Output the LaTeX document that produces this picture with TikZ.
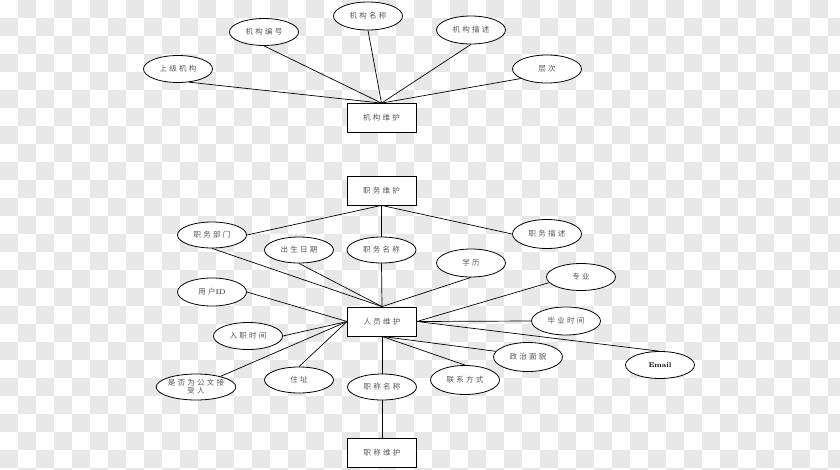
\documentclass[tikz,border=0pt]{standalone}
\usepackage{fontspec}
\usetikzlibrary{shapes.geometric}
\newfontfamily\cjk[LetterSpace=30]{Noto Sans CJK SC}
\definecolor{chk}{HTML}{E8E8E8}
\definecolor{txt}{HTML}{555555}
\begin{document}
\begin{tikzpicture}[x=1pt,y=-1pt,
  attr/.style={ellipse,draw=black,line width=0.8pt,fill=white,inner sep=0pt,
    minimum width=69pt,minimum height=27pt,font=\cjk\fontsize{7.5}{8.5}\selectfont,text=txt,align=center},
  ent/.style={rectangle,draw=black,line width=0.8pt,fill=white,inner sep=0pt,
    minimum width=69pt,minimum height=29pt,font=\cjk\fontsize{7.5}{8.5}\selectfont,text=txt},
  conn/.style={draw=black,line width=0.7pt},
  chkbox/.style={fill=chk,draw=none}]
\useasboundingbox (0,0) rectangle (840,469);
\fill[white] (0,0) rectangle (840,469);
\begin{scope}
\clip (0,0) rectangle (840,469);
\foreach \i in {0,...,46}{%
  \foreach \j in {0,...,26}{%
    \pgfmathtruncatemacro{\chkpar}{mod(\i+\j,2)}%
    \ifnum\chkpar=1
      \path[chkbox] ({\i*18},{\j*18}) rectangle ({\i*18+18},{\j*18+18});
    \fi
  }%
}
\end{scope}

% top group
\node[ent] (K) at (381.5,118) {机构维护};
\node[attr] (k1) at (178,69) {上级机构};
\node[attr] (k2) at (264,32) {机构编号};
\node[attr,minimum height=28pt] (k3) at (368,16) {机构名称};
\node[attr,minimum height=28pt] (k4) at (471,30) {机构描述};
\node[attr,minimum height=28pt] (k5) at (547,69) {层次};
\draw[conn] (k1.-50) -- (K.north);
\draw[conn] (k2.south) -- (K.north);
\draw[conn] (k3.south) -- (K.north);
\draw[conn] (k4.south) -- (K.north);
\draw[conn] (k5.200) -- (K.north);

% middle group
\node[ent] (J) at (381.5,190.5) {职务维护};
\node[attr,minimum height=26pt] (j1) at (212,235) {职务部门};
\node[attr,minimum height=26pt] (j2) at (299,250) {出生日期};
\node[attr,minimum height=26pt] (j3) at (381.5,250) {职务名称};
\node[attr,minimum height=29pt] (j4) at (547,234) {职务描述};
\node[attr,minimum height=28pt] (j5) at (471,263) {学历};
\node[attr] (j6) at (581,277) {专业};
\node[ent] (P) at (382,321.5) {人员维护};
\draw[conn] (J.south) -- (j1.east);
\draw[conn] (J.south) -- (j3.north);
\draw[conn] (J.south) -- (j4.west);
\draw[conn] (j1.south) -- (P.north);
\draw[conn] (j2.south) -- (P.north);
\draw[conn] (j3.south) -- (P.north);
\draw[conn] (j5.south) -- (P.north);
\draw[conn] (j6.190) -- (P.east);

% bottom group
\node[attr,minimum height=28pt] (u1) at (212,292) {用户{\rmfamily\bfseries\fontsize{7}{8}\selectfont ID}};
\node[attr] (u2) at (248,336) {入职时间};
\node[attr,minimum height=26pt,font=\cjk\fontsize{7.5}{8}\selectfont] (u3) at (196,387) {是否为公文接\\受人};
\node[attr,minimum height=26pt] (u4) at (299,380) {住址};
\node[attr,minimum height=26pt] (u5) at (382,387) {职称名称};
\node[attr,minimum height=29pt] (u6) at (465,380) {联系方式};
\node[attr,minimum height=29pt] (u7) at (528,357) {政治面貌};
\node[attr,minimum height=28pt] (u8) at (566,321) {毕业时间};
\node[attr] (u9) at (660,365) {{\rmfamily\bfseries\fontsize{7}{8}\selectfont\color{black}Email}};
\node[ent] (Z) at (382,452.5) {职称维护};
\draw[conn] (u1.east) -- (P.west);
\draw[conn] (u2.east) -- (P.west);
\draw[conn] (u3) -- (P.west);
\draw[conn] (u4.north) -- (P.west);
\draw[conn] (P.south) -- (u5.north);
\draw[conn] (u5.south) -- (Z.north);
\draw[conn] (P.south) -- (u6.north);
\draw[conn] (P.south) -- (u7.170);
\draw[conn] (P.east) -- (u8.west);
\draw[conn] (P.east) -- (u9.95);
\end{tikzpicture}
\end{document}
